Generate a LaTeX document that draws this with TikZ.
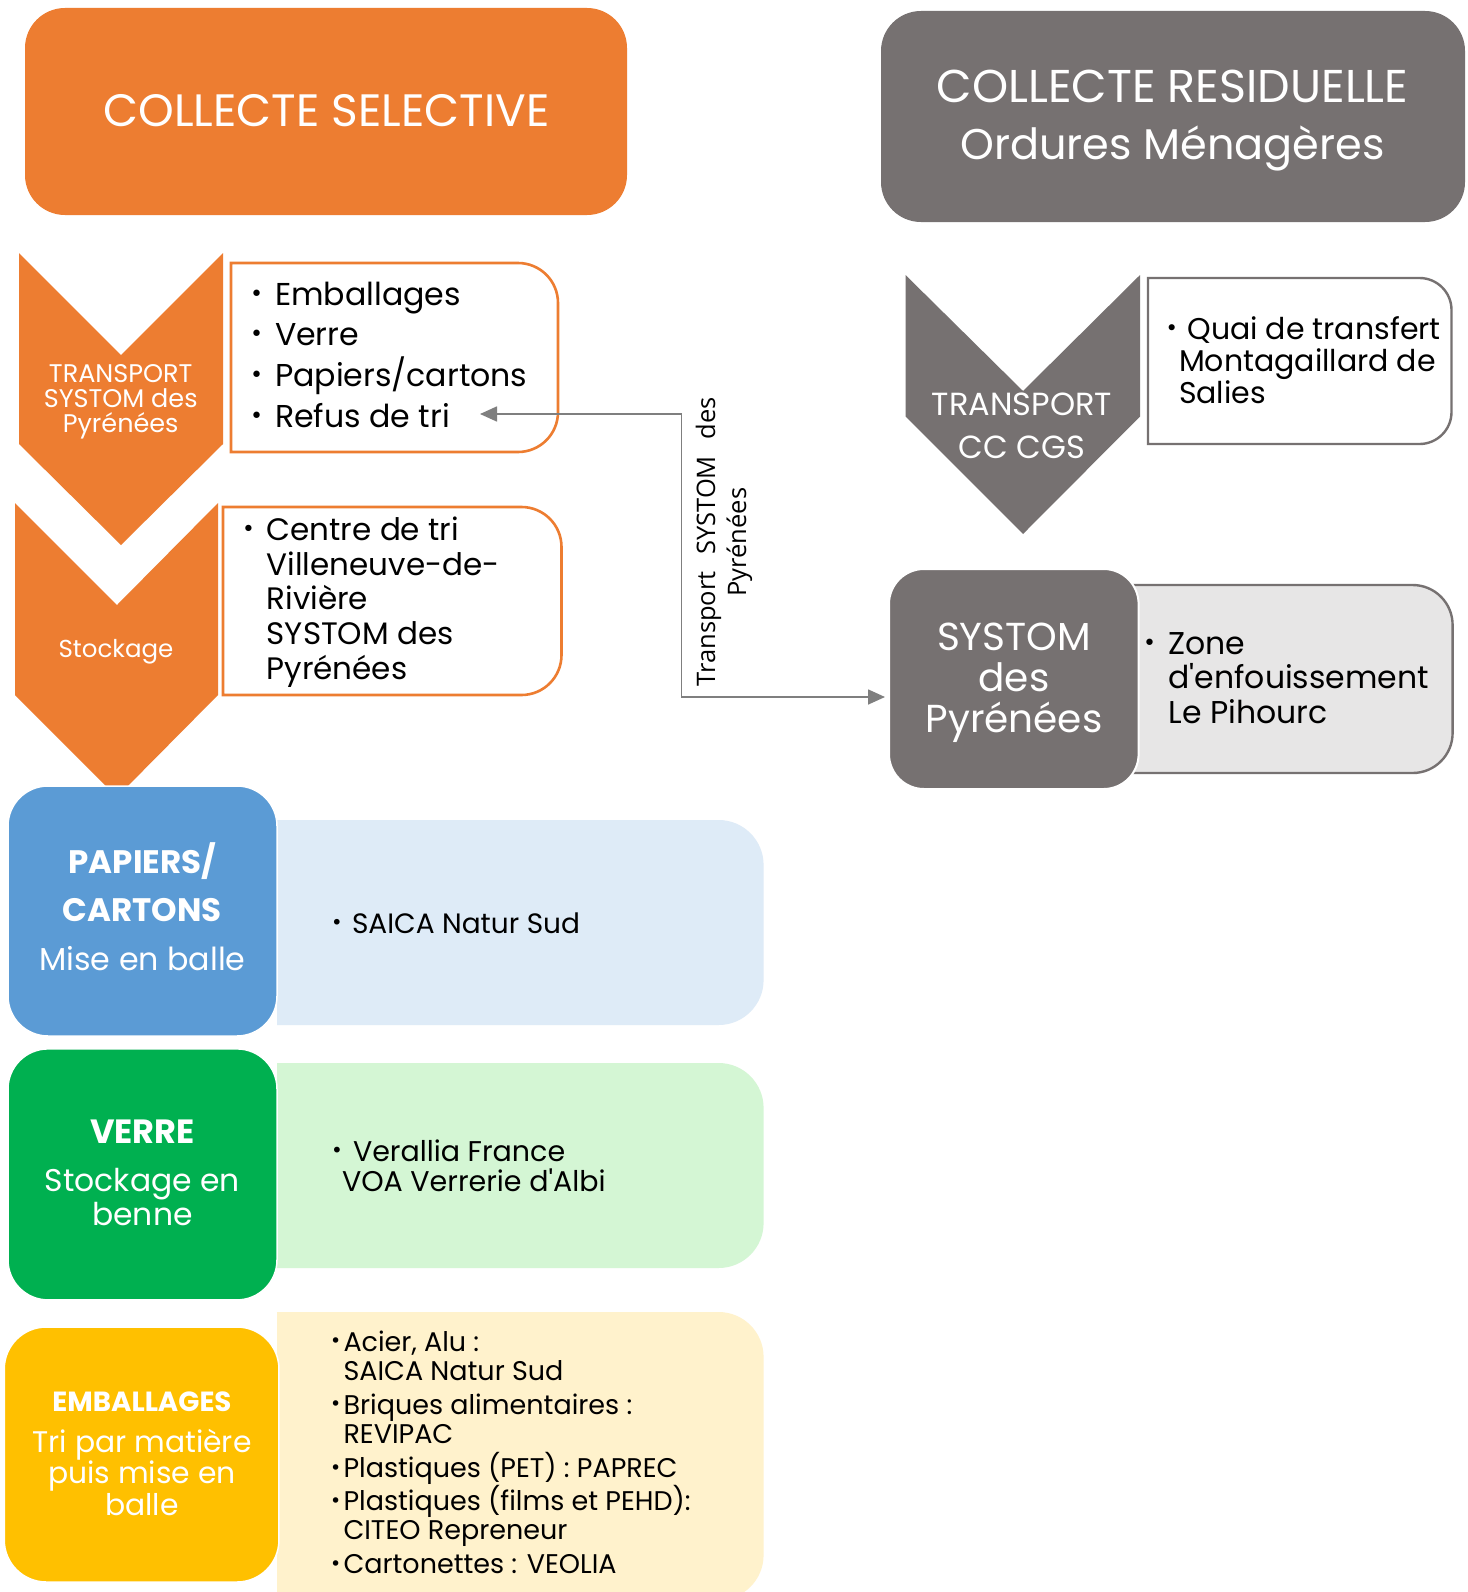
\documentclass[tikz,border=0pt]{standalone}
\usepackage{fontspec}
\setmainfont{Poppins}
\newfontfamily\osans{Open Sans}
\newfontfamily\bulfont{DejaVu Sans}
\usepackage{graphicx}
\usetikzlibrary{arrows.meta}
\definecolor{corange}{HTML}{ED7D31}
\definecolor{cgray}{HTML}{767171}
\definecolor{cblue}{HTML}{5B9BD5}
\definecolor{cgreen}{HTML}{00B050}
\definecolor{cyellow}{HTML}{FFC000}
\definecolor{lblue}{HTML}{DEEBF7}
\definecolor{lgreen}{HTML}{D4F6D4}
\definecolor{lyellow}{HTML}{FFF2CC}
\definecolor{lgray}{HTML}{E7E6E6}
\definecolor{cline}{HTML}{7F7F7F}
\newcommand\setfs[2]{\fontsize{#1}{#2}\selectfont}
\newcommand\clines[2]{\vtop{\baselineskip=#1\lineskiplimit=-\maxdimen\lineskip=0pt\halign{\hfil##\hfil\cr#2\crcr}}}
\newcommand\llines[2]{\vtop{\baselineskip=#1\lineskiplimit=-\maxdimen\lineskip=0pt\halign{##\hfil\cr#2\crcr}}}
\newcommand\bul[1]{\makebox[#1][l]{\raisebox{0.12em}{\bulfont\scalebox{0.7}{•}}}}
\newcommand\apos{\XeTeXglyph\XeTeXcharglyph"27\relax}
% right-rounded box: x1 y1 x2 y2 r
\newcommand\rrpath[5]{(#1,#2) -- ({#3-#5},#2) .. controls ({#3-0.4477*#5},#2) and (#3,{#2+0.4477*#5}) .. (#3,{#2+#5}) -- (#3,{#4-#5}) .. controls (#3,{#4-0.4477*#5}) and ({#3-0.4477*#5},#4) .. ({#3-#5},#4) -- (#1,#4) -- cycle}
\tikzset{
  lbl/.style={inner sep=0pt, outer sep=0pt},
  wtxt/.style={lbl, text=white},
  btxt/.style={lbl, text=black},
  rbox/.style={inner sep=0pt, outer sep=0pt},
  obox/.style={draw=corange, line width=2.6pt, fill=white},
  gbox/.style={draw=cgray, line width=2.4pt},
  conn/.style={draw=cline, line width=1.6pt, {Triangle[length=17pt,width=15pt]}-{Triangle[length=17pt,width=15pt]}},
}
\begin{document}
\begin{tikzpicture}[x=1pt,y=-1pt]
\useasboundingbox (0,0) rectangle (1467,1592);
\fill[white] (0,0) rectangle (1467,1592);

% ---------- headers
\node[rbox, rounded corners=40pt, fill=corange, minimum width=602pt, minimum height=207pt] (hsel) at (326,111.5) {};
\node[wtxt, anchor=base, font=\setfs{45.4}{45.4}] (tsel) at (326.5,126.5) {COLLECTE SELECTIVE};
\node[rbox, rounded corners=40pt, fill=cgray, minimum width=584pt, minimum height=211pt] (hres) at (1173,116.5) {};
\node[wtxt, anchor=base, font=\setfs{46}{46}] (tres) at (1172.5,103) {\clines{56pt}{COLLECTE RESIDUELLE\cr\setfs{43}{43}Ordures Ménagères}};

% ---------- orange chevrons
\fill[corange] (19,253) -- (121,355) -- (223,253) -- (223,444) -- (121,545) -- (19,444) -- cycle;
\node[wtxt, anchor=base, font=\setfs{25.5}{25.5}] (tch1) at (120.7,382.7) {\clines{25pt}{TRANSPORT\cr SYSTOM des\cr Pyrénées}};
\draw[obox] \rrpath{231}{263}{558}{452}{40};
\node[btxt, anchor=base west, font=\setfs{31.6}{31.6}] (tb1) at (250,305) {\llines{40.7pt}{\bul{25pt}Emballages\cr\bul{25pt}Verre\cr\bul{25pt}Papiers/cartons\cr\bul{25pt}Refus de tri}};

\fill[corange] (15,503) -- (117,605) -- (218,503) -- (218,695) -- (117,797) -- (15,695) -- cycle;
\node[wtxt, anchor=base, font=\setfs{24.5}{24.5}] (tch2) at (116,657) {Stockage};
\draw[obox] \rrpath{223}{507}{561.5}{695}{40};
\node[btxt, anchor=base west, font=\setfs{31}{31}] (tb2) at (242,540.7) {\llines{34.6pt}{\bul{24.7pt}Centre de tri\cr\hspace{24.7pt}Villeneuve-de-\cr\hspace{24.7pt}Rivière\cr\hspace{24.7pt}SYSTOM des\cr\hspace{24.7pt}Pyrénées}};

% ---------- gray chevron
\fill[cgray] (905.5,275) -- (1023,391) -- (1140,275) -- (1140,416.5) -- (1023,534) -- (905.5,416.5) -- cycle;
\node[wtxt, anchor=base, font=\setfs{32}{32}] (tch3) at (1022,415) {\clines{43.6pt}{TRANSPORT\cr CC CGS}};
\draw[gbox, fill=white] \rrpath{1148}{278}{1451.5}{444}{32};
\node[btxt, anchor=base west, font=\setfs{30}{30}] (tquai) at (1165.5,339) {\llines{32pt}{\bul{22pt}Quai de transfert\cr\hspace{13.5pt}Montagaillard de\cr\hspace{13.5pt}Salies}};

% ---------- SYSTOM + zone
\draw[gbox, fill=lgray] \rrpath{1133.5}{585}{1452.6}{773}{40};
\node[btxt, anchor=base west, font=\setfs{31.5}{31.5}] (tzone) at (1143,654) {\llines{34.5pt}{\bul{25.5pt}Zone\cr\hspace{25.5pt}d\apos enfouissement\cr\hspace{25.5pt}Le Pihourc}};
\node[rbox, rounded corners=35pt, fill=cgray, draw=white, line width=2pt, minimum width=249.6pt, minimum height=220pt] (systom) at (1013.8,679) {};
\node[wtxt, anchor=base, font=\setfs{39}{39}] (tsys) at (1014,650.5) {\clines{41pt}{SYSTOM\cr des\cr Pyrénées}};

% ---------- connector
\coordinate (refusarr) at (480,414);
\coordinate (sysarr) at (885,697);
\coordinate (bendx) at (681.6,0);
\draw[conn] (refusarr) -- (refusarr -| bendx) -- (bendx |- sysarr) -- (sysarr);
\node[lbl, text=black, rotate=90, anchor=base, font=\osans\setfs{25.5}{25.5}] (tlabel) at (715,542) {\clines{31pt}{\makebox[289pt][s]{Transport SYSTOM des}\cr Pyrénées}};

% ---------- papiers
\fill[lblue] \rrpath{277}{820}{763.6}{1025}{45};
\node[rbox, rounded corners=40pt, fill=cblue, draw=white, line width=1.5pt, minimum width=269pt, minimum height=250pt] (bluebox) at (142.5,911) {};
\node[wtxt, anchor=base, font=\setfs{32.5}{32.5}] (tblue) at (142.4,873) {\clines{48.5pt}{\bfseries PAPIERS/\cr\bfseries CARTONS\cr\setfs{31.7}{31.7}Mise en balle}};
\node[btxt, anchor=base west, font=\setfs{28}{28}] (tsaica) at (331,933) {\bul{21pt}SAICA Natur Sud};

% ---------- verre
\fill[lgreen] \rrpath{277}{1063}{763.6}{1268}{45};
\node[rbox, rounded corners=40pt, fill=cgreen, draw=white, line width=1.5pt, minimum width=269pt, minimum height=251pt] (greenbox) at (142.5,1174.4) {};
\node[wtxt, anchor=base, font=\setfs{31.4}{31.4}] (tgreen) at (142.4,1143) {\clines{34pt}{\setfs{33.6}{33.6}\bfseries VERRE\cr\noalign{\vskip14pt}Stockage en\cr benne}};
\node[btxt, anchor=base west, font=\setfs{28.5}{28.5}] (tverre) at (331,1161) {\llines{30pt}{\bul{22pt}Verallia France\cr\hspace{11pt}VOA Verrerie d\apos Albi}};

% ---------- emballages
\fill[lyellow] \rrpath{277}{1312}{763.6}{1600}{45};
\node[rbox, rounded corners=42pt, fill=cyellow, draw=white, line width=1.5pt, minimum width=274.7pt, minimum height=255pt] (yellowbox) at (141.6,1454.5) {};
\node[wtxt, anchor=base, font=\setfs{29.8}{29.8}] (tyellow) at (142,1411) {\clines{31.5pt}{\setfs{27.7}{27.7}\bfseries EMBALLAGES\cr\noalign{\vskip9.5pt}Tri par matière\cr puis mise en\cr balle}};
\node[btxt, anchor=base west, font=\setfs{27}{27}] (tyeltxt) at (330,1351) {\llines{29pt}{\bul{13.5pt}Acier, Alu :\cr\hspace{13.5pt}SAICA Natur Sud\cr\noalign{\vskip5pt}\bul{13.5pt}Briques alimentaires :\cr\hspace{13.5pt}REVIPAC\cr\noalign{\vskip5.5pt}\bul{13.5pt}Plastiques (PET) : PAPREC\cr\noalign{\vskip4pt}\bul{13.5pt}Plastiques (films et PEHD):\cr\hspace{13.5pt}CITEO Repreneur\cr\noalign{\vskip5pt}\bul{13.5pt}Cartonettes : VEOLIA}};
\end{tikzpicture}
\end{document}
